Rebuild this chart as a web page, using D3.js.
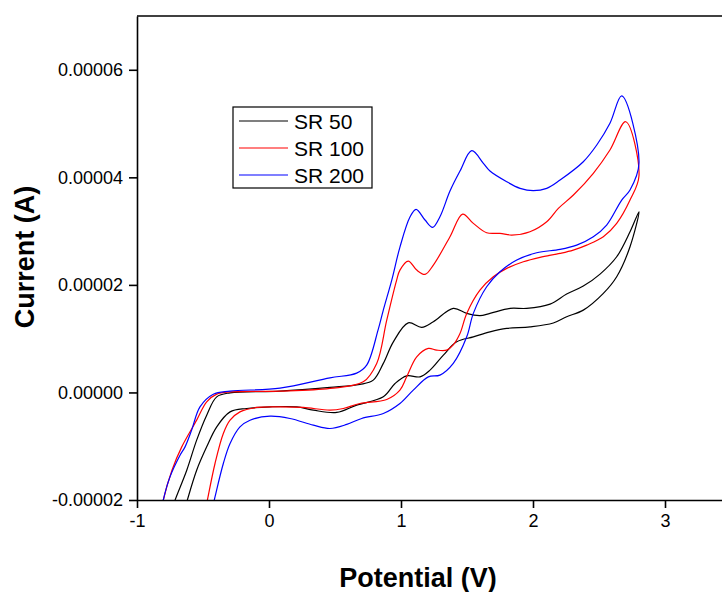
<!DOCTYPE html>
<html>
<head>
<meta charset="utf-8">
<script src="https://cdn.jsdelivr.net/npm/d3@7"></script>
<style>
  html, body { margin: 0; padding: 0; background: #fff; }
  svg { display: block; }
  text { font-family: Arial, "Liberation Sans", sans-serif; }
</style>
</head>
<body>
<svg id="chart" width="722" height="592"></svg>
<script>
// ---- data (potential in V, current in A) ----
const seriesNames = ["SR 50", "SR 100", "SR 200"];
const seriesColors = ["#000000", "#ff0000", "#0000ff"];
const xTicks = [-1, 0, 1, 2, 3];
const yTicks = [-0.00002, 0, 0.00002, 0.00004, 0.00006];
const xTickLabels = ["-1", "0", "1", "2", "3"];
const yTickLabels = ["-0.00002", "0.00000", "0.00002", "0.00004", "0.00006"];

// SR 50: anodic (upper) branch, left to right
const sr50Forward = [
  [-0.742, -22.26e-6], [-0.712, -20.04e-6], [-0.623, -14.46e-6], [-0.548, -8.87e-6],
  [-0.472, -4.22e-6], [-0.396, -0.82e-6], [-0.295, -0.07e-6], [0.083, 0.24e-6],
  [0.462, 0.93e-6], [0.689, 1.49e-6], [0.790, 2.29e-6], [0.866, 5.40e-6],
  [0.942, 9.41e-6], [1.055, 12.95e-6], [1.157, 12.09e-6], [1.245, 13.14e-6],
  [1.396, 15.63e-6], [1.498, 14.70e-6], [1.598, 14.29e-6], [1.674, 14.70e-6],
  [1.826, 15.63e-6], [1.952, 15.63e-6], [2.129, 16.43e-6], [2.255, 18.29e-6],
  [2.381, 19.78e-6], [2.508, 22.01e-6], [2.634, 25.23e-6], [2.735, 29.88e-6],
  [2.803, 33.60e-6]
];
// SR 50: return (lower) branch, right to left
const sr50Reverse = [
  [2.735, 27.09e-6], [2.634, 21.51e-6], [2.533, 18.42e-6], [2.381, 15.31e-6],
  [2.255, 14.07e-6], [2.154, 12.91e-6], [1.977, 12.20e-6], [1.801, 11.91e-6],
  [1.674, 11.27e-6], [1.548, 10.34e-6], [1.422, 9.41e-6], [1.321, 6.94e-6],
  [1.220, 4.15e-6], [1.144, 2.90e-6], [1.043, 3.09e-6], [0.955, 1.67e-6],
  [0.866, -0.82e-6], [0.664, -2.36e-6], [0.513, -3.72e-6], [0.336, -3.29e-6],
  [0.210, -2.68e-6], [0.008, -2.68e-6], [-0.169, -2.98e-6], [-0.295, -3.61e-6],
  [-0.396, -6.40e-6], [-0.472, -10.12e-6], [-0.548, -14.46e-6], [-0.619, -20.04e-6],
  [-0.644, -22.27e-6]
];

// SR 100
const sr100Forward = [
  [-0.830, -24.30e-6], [-0.801, -20.04e-6], [-0.735, -14.46e-6], [-0.661, -10.12e-6],
  [-0.548, -5.15e-6], [-0.472, -1.75e-6], [-0.396, -0.32e-6], [-0.295, 0.11e-6],
  [0.083, 0.24e-6], [0.462, 0.74e-6], [0.714, 1.97e-6], [0.816, 5.40e-6],
  [0.892, 13.45e-6], [0.967, 20.89e-6], [0.992, 22.75e-6], [1.055, 24.43e-6],
  [1.119, 22.75e-6], [1.182, 21.95e-6], [1.245, 23.68e-6], [1.371, 28.95e-6],
  [1.467, 33.17e-6], [1.548, 31.44e-6], [1.649, 29.69e-6], [1.750, 29.58e-6],
  [1.839, 29.27e-6], [1.977, 29.88e-6], [2.104, 31.74e-6], [2.192, 34.23e-6],
  [2.306, 36.71e-6], [2.457, 40.75e-6], [2.583, 45.08e-6], [2.702, 50.34e-6],
  [2.803, 40.30e-6]
];
const sr100Reverse = [
  [2.735, 35.78e-6], [2.634, 31.44e-6], [2.533, 28.95e-6], [2.407, 27.40e-6],
  [2.305, 26.47e-6], [2.205, 25.86e-6], [2.053, 25.12e-6], [1.927, 24.30e-6],
  [1.801, 23.07e-6], [1.699, 21.51e-6], [1.598, 19.03e-6], [1.498, 14.70e-6],
  [1.447, 10.98e-6], [1.394, 8.80e-6], [1.346, 7.87e-6], [1.270, 7.87e-6],
  [1.207, 8.19e-6], [1.119, 6.62e-6], [1.043, 2.90e-6], [0.992, 0.43e-6],
  [0.892, -1.30e-6], [0.689, -2.05e-6], [0.563, -2.98e-6], [0.462, -3.29e-6],
  [0.260, -2.79e-6], [0.083, -2.68e-6], [-0.093, -2.79e-6], [-0.220, -3.61e-6],
  [-0.295, -5.15e-6], [-0.346, -7.63e-6], [-0.409, -13.21e-6], [-0.467, -20.04e-6],
  [-0.485, -22.27e-6]
];

// SR 200
const sr200Forward = [
  [-0.830, -24.30e-6], [-0.801, -20.04e-6], [-0.750, -15.70e-6], [-0.674, -11.67e-6],
  [-0.636, -10.12e-6], [-0.586, -7.01e-6], [-0.523, -2.68e-6], [-0.422, -0.32e-6],
  [-0.295, 0.24e-6], [0.083, 0.80e-6], [0.462, 2.72e-6], [0.664, 3.59e-6],
  [0.740, 5.08e-6], [0.826, 11.59e-6], [0.866, 15.31e-6], [0.930, 20.89e-6],
  [0.992, 27.03e-6], [1.068, 32.61e-6], [1.114, 34.05e-6], [1.182, 32.06e-6],
  [1.240, 30.70e-6], [1.295, 32.67e-6], [1.371, 37.45e-6], [1.447, 41.17e-6],
  [1.536, 44.95e-6], [1.624, 42.61e-6], [1.674, 41.17e-6], [1.801, 39.18e-6],
  [1.902, 37.95e-6], [2.002, 37.51e-6], [2.104, 37.95e-6], [2.205, 39.50e-6],
  [2.381, 42.90e-6], [2.483, 46.01e-6], [2.583, 50.05e-6], [2.672, 55.13e-6],
  [2.803, 42.61e-6]
];
const sr200Reverse = [
  [2.735, 37.64e-6], [2.672, 35.78e-6], [2.558, 31.13e-6], [2.457, 28.95e-6],
  [2.331, 27.40e-6], [2.205, 26.60e-6], [2.028, 25.97e-6], [1.877, 24.62e-6],
  [1.750, 22.44e-6], [1.649, 19.65e-6], [1.548, 14.70e-6], [1.498, 10.34e-6],
  [1.396, 5.40e-6], [1.295, 3.22e-6], [1.207, 2.90e-6], [1.093, 0.43e-6],
  [0.992, -2.05e-6], [0.866, -3.91e-6], [0.702, -4.84e-6], [0.589, -5.95e-6],
  [0.462, -6.70e-6], [0.336, -6.08e-6], [0.159, -4.84e-6], [0.008, -4.41e-6],
  [-0.144, -5.16e-6], [-0.220, -6.40e-6], [-0.295, -9.49e-6], [-0.346, -13.21e-6],
  [-0.409, -19.42e-6], [-0.432, -21.90e-6]
];

const seriesForward = [sr50Forward, sr100Forward, sr200Forward];
const seriesReverse = [sr50Reverse, sr100Reverse, sr200Reverse];

// ---- drawing ----
const svg = d3.select("#chart");
const plotLeft = 137, plotTop = 16, plotBottom = 500, plotRight = 731;

const x = d3.scaleLinear().domain([-1, 3.5]).range([plotLeft, plotRight]);
const y = d3.scaleLinear().domain([-0.00002, 0.00007]).range([plotBottom, plotTop]);

svg.append("defs").append("clipPath").attr("id", "plotclip")
  .append("rect").attr("x", plotLeft).attr("y", plotTop)
  .attr("width", plotRight - plotLeft).attr("height", plotBottom - plotTop);

const line = d3.line()
  .x(d => x(d[0])).y(d => y(d[1]))
  .curve(d3.curveCatmullRom.alpha(0.5));

const plot = svg.append("g").attr("clip-path", "url(#plotclip)");
seriesNames.forEach((name, i) => {
  plot.append("path")
    .datum(seriesForward[i].concat(seriesReverse[i]))
    .attr("fill", "none")
    .attr("stroke", seriesColors[i])
    .attr("stroke-width", 1.2)
    .attr("stroke-linejoin", "round")
    .attr("d", line);
});

// frame top line
svg.append("line").attr("x1", plotLeft).attr("x2", plotRight).attr("y1", plotTop).attr("y2", plotTop)
  .attr("stroke", "#000").attr("stroke-width", 1.6);

// axes
const xAxis = d3.axisBottom(x).tickValues(xTicks).tickSize(8).tickSizeOuter(0)
  .tickFormat((d, i) => xTickLabels[i]);
const gx = svg.append("g").attr("transform", `translate(0,${plotBottom})`).call(xAxis);
gx.select(".domain").attr("stroke-width", 1.6);
gx.selectAll(".tick line").attr("stroke-width", 1.6);
gx.selectAll(".tick text").attr("font-size", 18).attr("font-family", "Arial, 'Liberation Sans', sans-serif")
  .attr("fill", "#000").attr("y", 14).attr("dy", "0.71em");

const yAxis = d3.axisLeft(y).tickValues(yTicks).tickSize(8).tickSizeOuter(0)
  .tickFormat((d, i) => yTickLabels[i]);
const gy = svg.append("g").attr("transform", `translate(${plotLeft},0)`).call(yAxis);
gy.select(".domain").attr("stroke-width", 1.6);
gy.selectAll(".tick line").attr("stroke-width", 1.6);
gy.selectAll(".tick text").attr("font-size", 18).attr("font-family", "Arial, 'Liberation Sans', sans-serif")
  .attr("fill", "#000").attr("x", -14);

// axis titles
svg.append("text").attr("x", 418).attr("y", 587).attr("text-anchor", "middle")
  .attr("font-size", 27).attr("font-weight", "bold").text("Potential (V)");
svg.append("text").attr("transform", "translate(34,257) rotate(-90)")
  .attr("text-anchor", "middle").attr("font-size", 27).attr("font-weight", "bold")
  .text("Current (A)");

// legend
const lg = svg.append("g");
lg.append("rect").attr("x", 233).attr("y", 107).attr("width", 139).attr("height", 81)
  .attr("fill", "#fff").attr("stroke", "#000").attr("stroke-width", 1.2);
seriesNames.forEach((name, i) => {
  const cy = 121 + i * 27;
  lg.append("line").attr("x1", 239).attr("x2", 288).attr("y1", cy).attr("y2", cy)
    .attr("stroke", seriesColors[i]).attr("stroke-width", 1.2);
  lg.append("text").attr("x", 294).attr("y", cy + 7.5).attr("font-size", 21)
    .attr("fill", "#000").text(name);
});
</script>
</body>
</html>
